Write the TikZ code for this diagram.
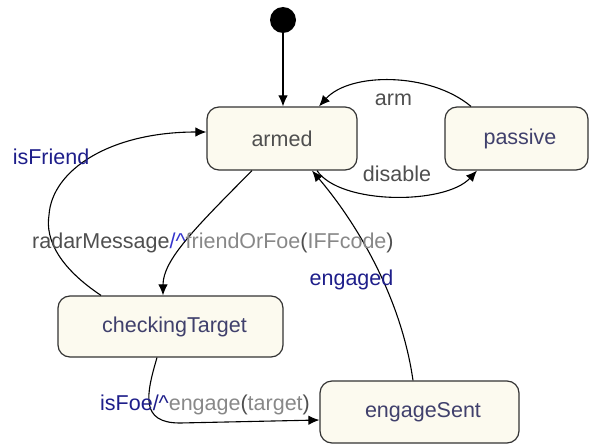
\documentclass[tikz,border=0pt]{standalone}
\usepackage{xcolor}
\usepackage{fontspec}
\setmainfont{Liberation Sans}
\usepackage{tikz}
\usetikzlibrary{arrows.meta, calc}

\begin{document}
\begin{tikzpicture}[x=1pt, y=-1pt,
  estado/.style={draw=borda, fill=creme, rounded corners=12pt, line width=1.2pt, minimum height=63pt, inner sep=0pt, font=\fontsize{21.5}{24}\selectfont},
  seta/.style={->, >={Latex[length=11pt,width=9.5pt]}, line width=1.1pt},
  rotulo/.style={inner sep=0pt, anchor=base, font=\fontsize{21.5}{24}\selectfont}]
% --- MAQUINA DE ESTADOS DO ALVO ---
\definecolor{creme}{HTML}{FCFAEF}
\definecolor{borda}{HTML}{333333}
\definecolor{cinza}{HTML}{4F4F4F}
\definecolor{cinzaclaro}{HTML}{888888}
\definecolor{ardosia}{HTML}{40406C}
\definecolor{azul}{HTML}{1E1E8A}
\definecolor{azulvivo}{HTML}{3333CC}
\useasboundingbox (0,0) rectangle (589,444);

% LAYER 1: Estado inicial e estados
\node[circle, fill=black, minimum size=26pt, inner sep=0pt] (inicio) at (283,20) {};
\node[estado, minimum width=150pt, text=cinza] (armed) at (282,138.5) {armed};
\node[estado, minimum width=143pt, text=ardosia] (passive) at (516.5,138.5) {\hspace*{7pt}passive};
\node[estado, minimum width=225pt, minimum height=61pt, text=ardosia] (checking) at (170.5,326.5) {\hspace*{8pt}checkingTarget};
\node[estado, minimum width=199pt, minimum height=62pt, text=ardosia] (engageSent) at (419.5,412) {\hspace*{7pt}engageSent};

% LAYER 2: Transicoes
\draw[seta] (inicio.south) -- (inicio.south |- armed.north);
\draw[seta] ([xshift=-45.5pt]passive.north) .. controls (430,72) and (350,72) .. ([xshift=37pt]armed.north);
\draw[seta] ([xshift=35pt]armed.south) .. controls (340,205) and (445,205) .. ([xshift=-39.5pt]passive.south);
\draw[seta] ([xshift=-30pt]armed.south) .. controls (195,228) and (163,260) .. ([xshift=-7.5pt]checking.north);
\draw[seta] ([xshift=-69.5pt]checking.north) .. controls (60,268) and (45,240) .. (49,215) .. controls (52,170) and (110,132) .. ([yshift=6.5pt]armed.west);
\draw[seta] ([xshift=-13.5pt]checking.south) .. controls (146,395) and (140,423) .. (180,423) -- ([yshift=-8pt]engageSent.west);
\draw[seta] ([xshift=-6.5pt]engageSent.north) .. controls (400,290) and (350,215) .. ([xshift=30pt]armed.south);

% LAYER 3: Rotulos das transicoes
\node[rotulo, text=cinza] (lblArm) at (393.5,105) {arm};
\node[rotulo, text=cinza] (lblDisable) at (397,181) {disable};
\node[rotulo, text=azul] (lblFriend) at (51,164) {isFriend};
\node[rotulo, anchor=base west, text=cinza] (lblRadar) at (32,248) {radarMessage\textcolor{azulvivo}{/\textasciicircum}\textcolor{cinzaclaro}{friendOrFoe}(\textcolor{cinzaclaro}{IFFcode})};
\node[rotulo, text=azul] (lblEngaged) at (351.5,285) {engaged};
\node[rotulo, anchor=base west, text=azul] (lblFoe) at (100,410) {isFoe/\textasciicircum\textcolor{cinzaclaro}{engage}\textcolor{cinza}{(}\textcolor{cinzaclaro}{target}\textcolor{cinza}{)}};
\end{tikzpicture}
\end{document}
